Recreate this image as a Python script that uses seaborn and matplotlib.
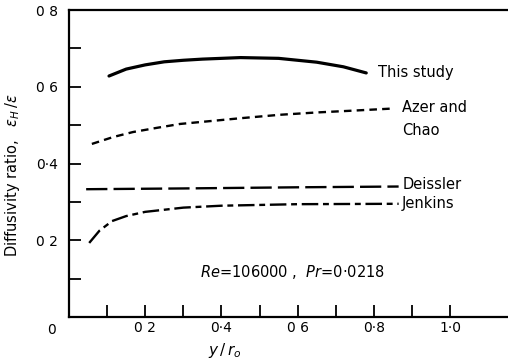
import matplotlib
matplotlib.use("Agg")
import matplotlib.pyplot as plt
import seaborn as sns
import pandas as pd

# ---- data ----
study_x = [0.105, 0.15, 0.20, 0.25, 0.30, 0.35, 0.45, 0.55, 0.65, 0.72, 0.78]
study_y = [0.628, 0.646, 0.657, 0.665, 0.669, 0.672, 0.676, 0.674, 0.664, 0.652, 0.636]

azer_x = [0.06, 0.116, 0.168, 0.231, 0.291, 0.344, 0.45, 0.554, 0.65, 0.75, 0.845]
azer_y = [0.451, 0.469, 0.482, 0.493, 0.503, 0.508, 0.518, 0.527, 0.533, 0.538, 0.543]

deissler_x = [0.045, 0.30, 0.60, 0.865]
deissler_y = [0.333, 0.335, 0.338, 0.340]

jenkins_x = [0.053, 0.08, 0.113, 0.15, 0.20, 0.30, 0.40, 0.60, 0.865]
jenkins_y = [0.193, 0.225, 0.250, 0.263, 0.274, 0.285, 0.290, 0.294, 0.295]

series_names = ["This study", "Azer and Chao", "Deissler", "Jenkins"]

ytick_vals = [0.0, 0.2, 0.4, 0.6, 0.8]
ytick_labels = ["", "0 2", "0·4", "0 6", "0 8"]
xtick_vals = [0.0, 0.2, 0.4, 0.6, 0.8, 1.0]
xtick_labels = ["", "0 2", "0·4", "0 6", "0·8", "1·0"]

rows = []
for name, xs, ys in zip(series_names,
                        [study_x, azer_x, deissler_x, jenkins_x],
                        [study_y, azer_y, deissler_y, jenkins_y]):
    for x, y in zip(xs, ys):
        rows.append({"x": x, "y": y, "series": name})
df = pd.DataFrame(rows)

sns.set_style("ticks")
plt.rcParams["font.family"] = ["DejaVu Sans"]
plt.rcParams["text.color"] = "black"
plt.rcParams["axes.labelcolor"] = "black"
plt.rcParams["xtick.color"] = "black"
plt.rcParams["ytick.color"] = "black"

fig = plt.figure(figsize=(5.08, 3.59), dpi=100)
ax = fig.add_axes([69 / 508, 1 - 317 / 359, 1 - 69 / 508, (317 - 10) / 359])

dashes = {
    "This study": "",
    "Azer and Chao": (3.2, 2.2),
    "Deissler": (9, 2.6),
    "Jenkins": (7, 2, 2.5, 2),
}
sns.lineplot(data=df, x="x", y="y", hue="series", style="series",
             palette={n: "black" for n in series_names}, dashes=dashes,
             estimator=None, sort=True, legend=False, ax=ax, linewidth=1.7)
ax.lines[0].set_linewidth(2.3)

ax.set_xlim(0, 1.152)
ax.set_ylim(0, 0.8)

ax.set_yticks(ytick_vals)
ax.set_yticklabels(ytick_labels)
ax.set_yticks([0.1, 0.3, 0.5, 0.7], minor=True)
ax.set_xticks(xtick_vals)
ax.set_xticklabels(xtick_labels)
ax.set_xticks([0.1, 0.3, 0.5, 0.7, 0.9], minor=True)
ax.tick_params(which="both", direction="in", length=8.5, width=1.3,
               colors="black", labelsize=10, labelcolor="black")
ax.tick_params(axis="y", pad=8)
ax.tick_params(axis="x", pad=3)
for sp in ["left", "bottom", "top"]:
    ax.spines[sp].set_linewidth(1.6)
    ax.spines[sp].set_color("black")
ax.spines["right"].set_visible(False)

ax.set_xlabel("")
ax.set_ylabel("")

# origin label
ax.text(-0.045, -0.035, "0", ha="center", va="center", fontsize=10,
        color="black", transform=ax.transData, clip_on=False)

# axis labels
fig.text(13 / 508, 1 - 175 / 359, r"Diffusivity ratio,   $\epsilon_H\,/\epsilon$",
         rotation=90, ha="center", va="center", fontsize=10.5, color="black")
fig.text(225 / 508, 1 - 350 / 359, r"$y\,/\,r_o$", ha="center", va="center",
         fontsize=11, color="black")

# series labels
kw = dict(fontsize=10.5, va="center", color="black")
ax.text(0.81, 0.636, "This study", **kw)
ax.text(0.875, 0.545, "Azer and", **kw)
ax.text(0.875, 0.487, "Chao", **kw)
ax.text(0.875, 0.344, "Deissler", **kw)
ax.text(0.872, 0.297, "Jenkins", **kw)

ax.text(0.345, 0.118, r"$Re$=106000 ,  $Pr$=0·0218", **kw)

fig.savefig("out.png", dpi=100)
